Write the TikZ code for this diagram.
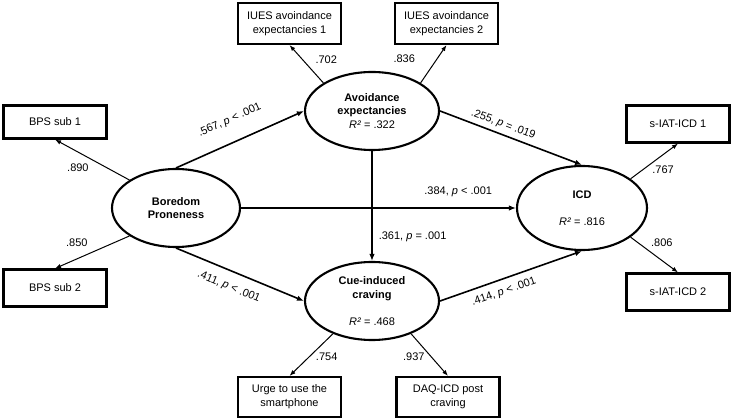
\documentclass[tikz,border=0pt]{standalone}
\usepackage{fontspec}
\setmainfont{Liberation Sans}
\usetikzlibrary{shapes.geometric,arrows.meta}

\begin{document}
\begin{tikzpicture}[x=1pt, y=-1pt,
    font=\fontsize{11}{13.8}\selectfont,
    ind/.style={rectangle, draw, line width=2.1pt, minimum width=103pt,
        minimum height=37pt, align=center, inner sep=2pt},
    lat/.style={ellipse, draw, line width=2.1pt, inner sep=0pt, align=center},
    reg/.style={-{Latex[length=7pt,width=5.5pt]}, line width=1.6pt},
    load/.style={-{Latex[length=6pt,width=4.5pt]}, line width=1pt},
    coef/.style={inner sep=1pt}
]
    \useasboundingbox (0,0) rectangle (733,419);

    \node[lat, minimum width=128pt, minimum height=78pt] (bp) at (176,208) {\textbf{Boredom}\\\textbf{Proneness}};
    \node[lat, minimum width=134pt, minimum height=78pt] (av) at (372,111) {\textbf{Avoidance}\\\textbf{expectancies}\\\textit{R²} = .322};
    \node[lat, minimum width=134pt, minimum height=78pt] (cue) at (372,301) {\textbf{Cue-induced}\\\textbf{craving}\\[13.5pt]\textit{R²} = .468};
    \node[lat, minimum width=130pt, minimum height=84pt] (icd) at (582,208) {\textbf{ICD}\\[13.5pt]\textit{R²} = .816};

    \node[ind, minimum height=41pt] (iues1) at (289.5,23.5) {IUES avoindance\\expectancies 1};
    \node[ind, minimum height=41pt] (iues2) at (446.5,23.5) {IUES avoindance\\expectancies 2};
    \node[ind, minimum height=33pt] (bps1) at (55,122) {BPS sub 1};
    \node[ind] (bps2) at (55,288) {BPS sub 2};
    \node[ind] (sic1) at (678,124) {s-IAT-ICD 1};
    \node[ind] (sic2) at (678,292) {s-IAT-ICD 2};
    \node[ind, minimum height=40pt] (urge) at (289.5,397) {Urge to use the\\smartphone};
    \node[ind, minimum height=40pt] (daq) at (448,397) {DAQ-ICD post\\craving};

    \draw[reg] (bp.north) -- (av.west) node[coef, pos=.49, sloped, above=15pt] (c1) {.567, \textit{p} < .001};
    \draw[reg] (bp.south) -- (cue.west) node[coef, pos=.46, sloped, below=9pt] (c2) {.411, \textit{p} < .001};
    \draw[reg] (bp.east) -- (icd.west) node[coef, pos=.79, above=9pt] (c3) {.384, \textit{p} < .001};
    \draw[reg] (av.east) -- (icd.north) node[coef, pos=.42, sloped, above=3pt] (c4) {.255, \textit{p} = .019};
    \draw[reg] (cue.east) -- (icd.south) node[coef, pos=.42, sloped, below=6pt] (c5) {.414, \textit{p} < .001};
    \draw[reg] (av.south) -- (cue.north) node[coef, pos=.78, right=5pt] (c6) {.361, \textit{p} = .001};

    \draw[load] (av.150) -- (iues1.south) node[coef, pos=.6, right=11pt] (l1) {.702};
    \draw[load] (av.30) -- (iues2.south) node[coef, pos=.65, left=21pt] (l2) {.836};
    \draw[load] (bp.149) -- (bps1.south) node[coef, pos=.3, left=17pt] (l3) {.890};
    \draw[load] (bp.211) -- (bps2.north) node[coef, pos=.22, left=24pt] (l4) {.850};
    \draw[load] (icd.31) -- (sic1.south) node[coef, pos=.26, right=8pt] (l5) {.767};
    \draw[load] (icd.-31) -- (sic2.north) node[coef, pos=.15, right=12pt] (l6) {.806};
    \draw[load] (cue.-140) -- (urge.north) node[coef, pos=.54, right=5pt] (l7) {.754};
    \draw[load] (cue.-40) -- (daq.north) node[coef, pos=.54, left=5pt] (l8) {.937};
\end{tikzpicture}
\end{document}
